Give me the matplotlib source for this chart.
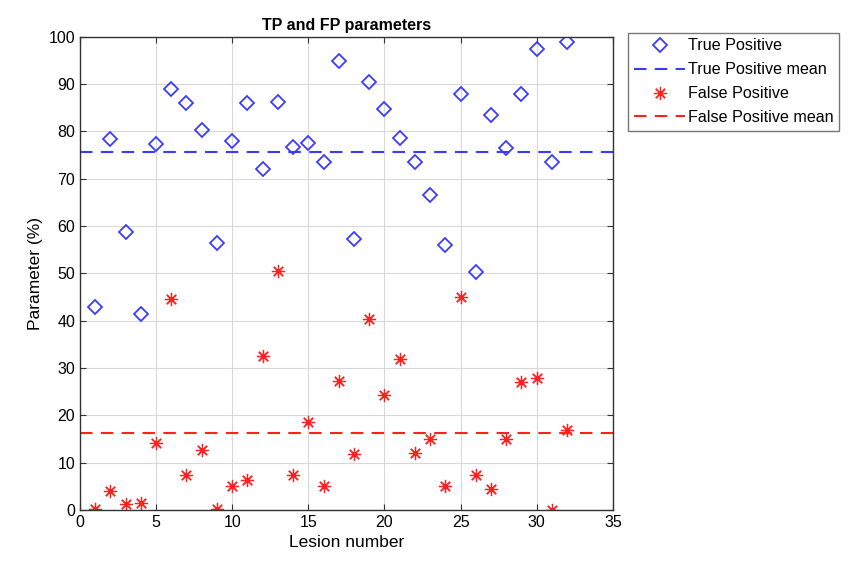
import numpy as np
import matplotlib
matplotlib.use("Agg")
import matplotlib.pyplot as plt

plt.rcParams['font.family'] = ['Liberation Sans', 'DejaVu Sans']

lesion = np.arange(1, 33)
tp = [43, 78.5, 58.8, 41.5, 77.3, 89, 86, 80.3, 56.4, 78, 86, 72.1, 86.3, 76.8, 77.6, 73.5,
      94.8, 57.3, 90.5, 84.7, 78.6, 73.5, 66.6, 55.9, 87.9, 50.3, 83.4, 76.5, 87.9, 97.5, 73.5, 99]
fp = [0.3, 4, 1.2, 1.4, 14.2, 44.5, 7.4, 12.6, 0.3, 5, 6.3, 32.5, 50.4, 7.4, 18.5, 5,
      27.3, 11.8, 40.4, 24.3, 31.9, 12, 15, 5, 45, 7.4, 4.4, 15, 27, 27.8, 0, 17]
x_range = [0, 35]

tp_mean = np.mean(tp)
fp_mean = np.mean(fp)

blue = '#3b3bff'
red = '#ff2020'

fig = plt.figure(figsize=(8.5, 5.66), dpi=100)
ax = fig.add_axes([0.094, 0.099, 0.627, 0.836])

ax.plot(lesion, tp, linestyle='none', marker='D', markersize=7, markerfacecolor='none',
        markeredgecolor=blue, markeredgewidth=1.3, label='True Positive')
ax.plot(x_range, [tp_mean, tp_mean], '--', color=blue, linewidth=1.5, dashes=(6, 4),
        label='True Positive mean')
ax.plot(lesion, fp, linestyle='none', marker=(8, 2, 0), markersize=9.5, color=red,
        markeredgewidth=0.9, label='False Positive')
ax.plot(x_range, [fp_mean, fp_mean], '--', color=red, linewidth=1.5, dashes=(6, 4),
        label='False Positive mean')

ax.set_xlim(0, 35)
ax.set_ylim(0, 100)
ax.set_xticks(np.arange(0, 36, 5))
ax.set_yticks(np.arange(0, 101, 10))
ax.grid(True, color='#d8d8d8', linewidth=0.8)
ax.set_axisbelow(True)
ax.tick_params(direction='in', top=True, right=True, labelsize=11.5, length=4, color='#333333')
for s in ax.spines.values():
    s.set_color('#333333')
    s.set_linewidth(1.0)

ax.set_xlabel('Lesion number', fontsize=12.5)
ax.set_ylabel('Parameter (%)', fontsize=12.5)
ax.set_title('TP and FP parameters', fontsize=11.5, fontweight='bold', pad=5)

leg = ax.legend(loc='upper left', bbox_to_anchor=(0.739, 0.942), bbox_transform=fig.transFigure,
                fontsize=11.6, frameon=True, fancybox=False, edgecolor='#555555',
                handlelength=3.2, borderpad=0.35, labelspacing=0.55, handletextpad=0.15,
                borderaxespad=0)
leg.get_frame().set_linewidth(1.0)

fig.savefig('out.png', dpi=100)
